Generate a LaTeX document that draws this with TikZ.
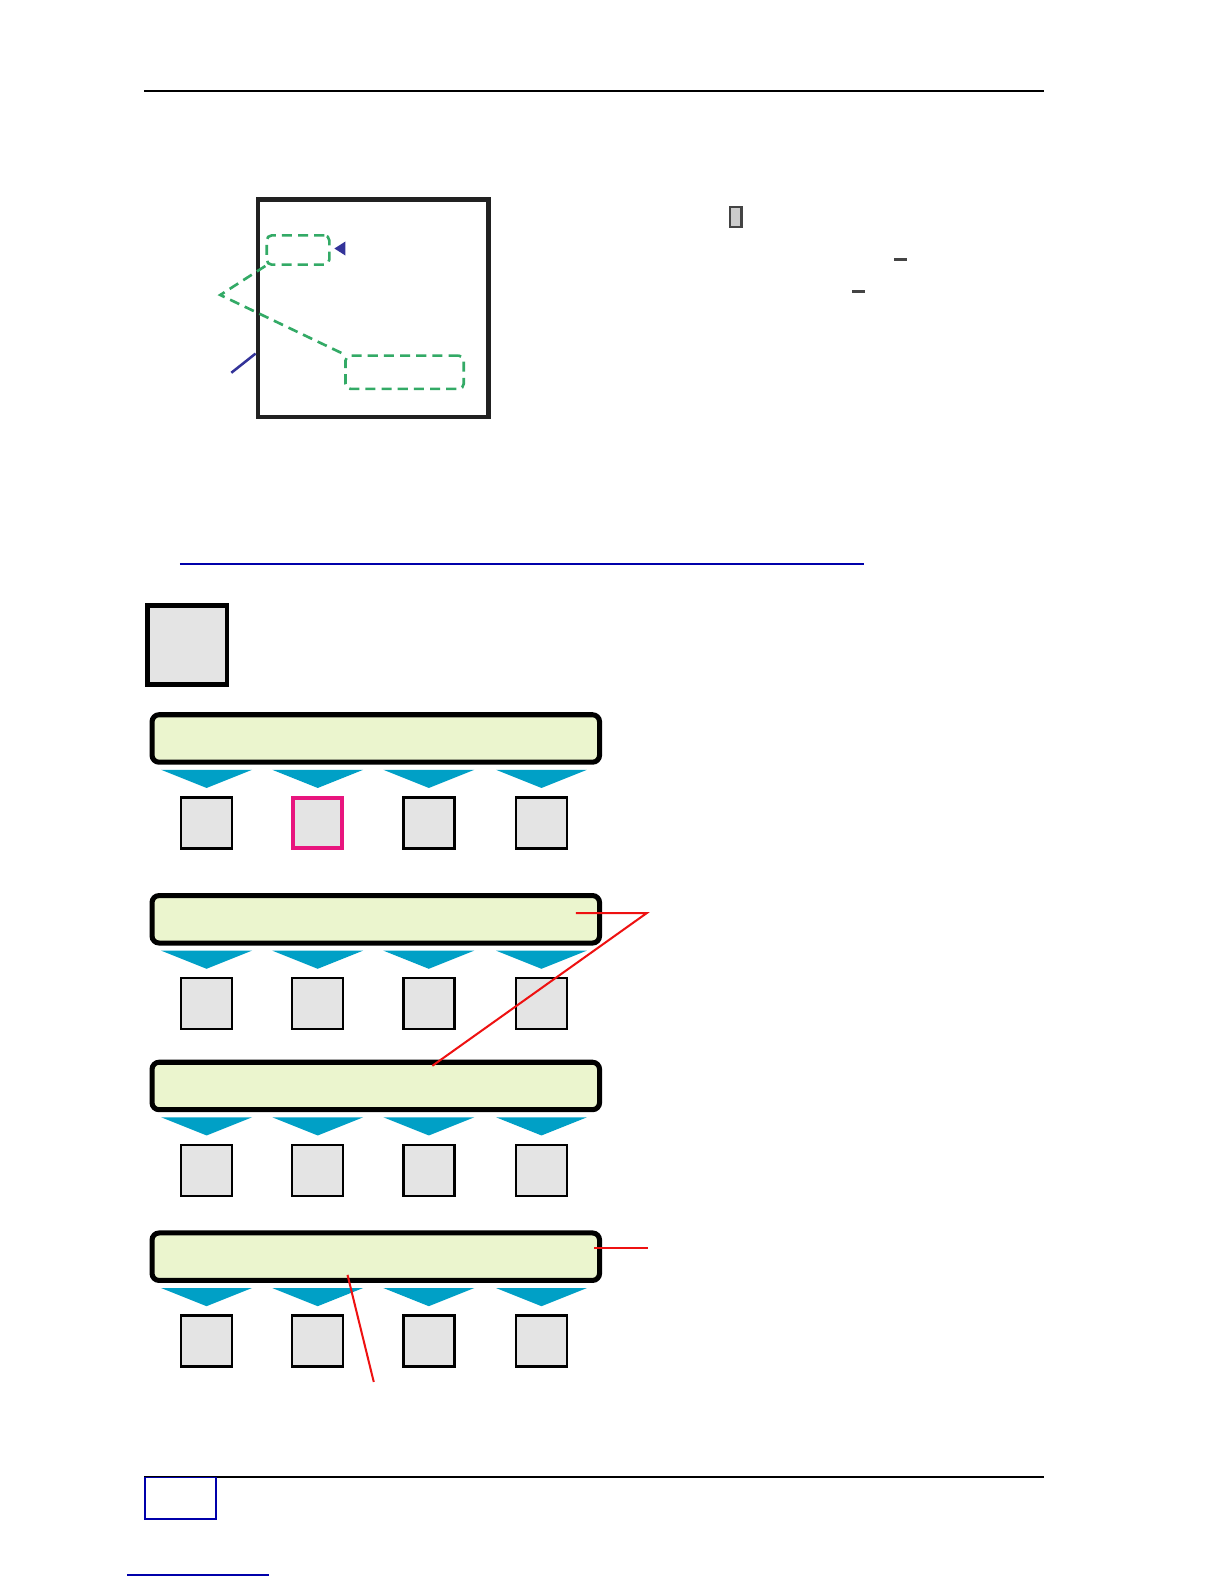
\documentclass[tikz,border=0pt]{standalone}
\usetikzlibrary{calc}
\definecolor{barfill}{HTML}{EBF5CE}
\definecolor{sqfill}{HTML}{E4E4E4}
\definecolor{trifill}{HTML}{00A0C6}
\definecolor{mag}{HTML}{E8157E}
\definecolor{dgreen}{HTML}{33AA66}
\definecolor{navy}{HTML}{333399}
\definecolor{linkblue}{HTML}{0000AA}
\definecolor{redline}{HTML}{EE1111}
\definecolor{dgray}{HTML}{444444}
\begin{document}
\begin{tikzpicture}[x=1pt,y=-1pt,
  bar/.style={draw=black, line width=5pt, fill=barfill, rounded corners=7pt,
    minimum width=443pt, minimum height=47pt, inner sep=0pt},
  sq/.style={draw=black, line width=2.5pt, fill=sqfill, minimum size=50.5pt, inner sep=0pt},
  sqhi/.style={draw=mag, line width=4pt, fill=sqfill, minimum size=49pt, inner sep=0pt},
  chev/.style={fill=trifill},
  dbox/.style={draw=dgreen, line width=2.6pt, dash pattern=on 10pt off 6pt, rounded corners=5pt, inner sep=0pt},
  dline/.style={draw=dgreen, line width=2.6pt, dash pattern=on 10pt off 6pt},
  callout/.style={draw=redline, line width=2pt},
  rulel/.style={draw=black, line width=2pt},
]
\useasboundingbox[fill=white] (0,0) rectangle (1212,1568);

% header rule
\coordinate (hrA) at (143,90);
\coordinate (hrB) at (1033,90);
\draw[rulel] (hrA) -- (hrB);

% top figure
\node[draw=black!87, line width=4.5pt, minimum width=228.5pt, minimum height=215.5pt, inner sep=0pt] (frame) at (369.5,305) {};
\node[dbox, minimum width=62pt, minimum height=29pt] (d1) at (295,247.5) {};
\node[dbox, minimum width=117pt, minimum height=33pt] (d2) at (400.5,368.5) {};
\coordinate (dk) at (218,292);
\draw[dline] (d1.south west) -- (dk) -- (d2.north west);
\coordinate (tipA) at (331,246);
\fill[navy] (tipA) -- (342,239) -- (342,253) -- cycle;
\coordinate (bl) at (229,369);
\draw[navy, line width=2.5pt] (bl) -- (frame.west |- 0,350);

% small marks at right
\node[draw=dgray, line width=2pt, fill=black!20, minimum width=11pt, minimum height=20pt, inner sep=0pt] (gr) at (728.5,215) {};
\node[fill=dgray, minimum width=13pt, minimum height=3pt, inner sep=0pt] (m1) at (891.5,257) {};
\node[fill=dgray, minimum width=13pt, minimum height=3pt, inner sep=0pt] (m2) at (849.5,289) {};

% blue link line
\coordinate (lkA) at (178,558);
\coordinate (lkB) at (855,558);
\draw[linkblue, line width=2pt] (lkA) -- (lkB);

% big gray square
\node[draw=black, line width=4.5pt, fill=sqfill, minimum size=78.5pt, inner sep=0pt] (big) at (185.5,638.5) {};

% four rows
\foreach \r/\t in {1/705, 2/884, 3/1049, 4/1218} {
  \node[bar] (bar\r) at (372,\t+26) {};
  \foreach \c/\x in {1/204.5, 2/314.5, 3/424.5, 4/536} {
    \fill[chev] (\x-45,\t+57) -- (\x+45,\t+57) -- (\x,\t+75) -- cycle;
    \node[sq] (s\r\c) at (\x,\t+109.5) {};
  }
}
% highlighted square
\node[sqhi] (s12h) at (314.5,814.5) {};

% red callouts
\coordinate (c1) at (640,904);
\coordinate (c1a) at (570,904);
\coordinate (c1b) at (428,1055);
\draw[callout] (c1a) -- (c1) -- (c1b);
\coordinate (c2) at (641,1235);
\draw[callout] (c2) -- (bar4.east |- c2) -- ++(-8,0);
\coordinate (c3) at (370,1368);
\coordinate (c3a) at (344,1262);
\draw[callout] (c3) -- (c3a);

% footer
\coordinate (frA) at (143,1462);
\coordinate (frB) at (1033,1462);
\draw[black, line width=1.5pt] (frA) -- (frB);
\node[draw=linkblue, line width=1.5pt, minimum width=70pt, minimum height=41pt, inner sep=0pt, anchor=north west] (pg) at (143,1462) {};
\coordinate (ulA) at (126,1559);
\coordinate (ulB) at (266,1559);
\draw[linkblue, line width=1.5pt] (ulA) -- (ulB);
\end{tikzpicture}
\end{document}
